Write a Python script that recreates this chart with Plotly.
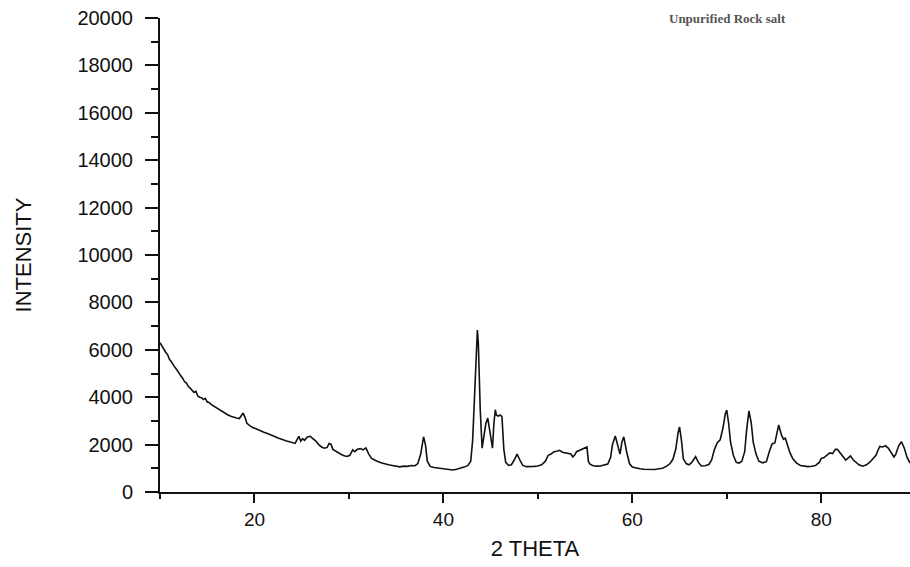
import plotly.graph_objects as go

two_theta = [
    10.0, 10.2, 10.4, 10.6, 10.8, 11.0, 11.2, 11.4, 11.6, 11.8, 12.0, 12.2, 12.4, 12.6, 12.8,
    13.0, 13.2, 13.4, 13.6, 13.8, 14.0, 14.2, 14.4, 14.6, 14.8, 15.0, 15.2, 15.4, 15.6, 15.8,
    16.0, 16.3, 16.6, 16.9, 17.2, 17.5, 17.8, 18.1, 18.4, 18.6, 18.8, 19.0, 19.2, 19.5, 19.8,
    20.1, 20.4, 20.7, 21.0, 21.3, 21.6, 21.9, 22.2, 22.5, 22.8, 23.1, 23.4, 23.7, 24.0, 24.3,
    24.5, 24.7, 24.9, 25.1, 25.3, 25.6, 25.9, 26.2, 26.5, 26.8, 27.1, 27.4, 27.7, 27.9, 28.1,
    28.3, 28.6, 28.9, 29.2, 29.5, 29.8, 30.1, 30.4, 30.6, 30.9, 31.2, 31.5, 31.8, 32.1, 32.4,
    32.7, 33.0, 33.4, 33.8, 34.2, 34.6, 35.0, 35.4, 35.8, 36.2, 36.6, 37.0, 37.3, 37.6, 37.9,
    38.1, 38.3, 38.6, 39.0, 39.4, 39.8, 40.2, 40.6, 41.0, 41.4, 41.8, 42.2, 42.6, 42.9, 43.1,
    43.3, 43.5, 43.6, 43.7, 43.9, 44.1, 44.3, 44.5, 44.7, 44.9, 45.1, 45.2, 45.35, 45.5, 45.6,
    45.8, 46.0, 46.2, 46.4, 46.6, 46.9, 47.2, 47.5, 47.8, 48.1, 48.4, 48.8, 49.2, 49.6, 50.0,
    50.4, 50.8, 51.1, 51.4, 51.7, 52.0, 52.3, 52.6, 52.9, 53.2, 53.5, 53.7, 53.9, 54.1, 54.4,
    54.7, 55.0, 55.2, 55.35, 55.5, 55.8, 56.2, 56.6, 57.0, 57.4, 57.7, 57.9, 58.2, 58.5, 58.7,
    58.9, 59.1, 59.4, 59.7, 60.0, 60.4, 60.8, 61.2, 61.6, 62.0, 62.4, 62.8, 63.2, 63.6, 64.0,
    64.3, 64.6, 64.85, 65.0, 65.2, 65.4, 65.7, 66.0, 66.3, 66.7, 67.0, 67.3, 67.7, 68.1, 68.4,
    68.7, 69.0, 69.3, 69.6, 69.85, 70.0, 70.2, 70.4, 70.7, 71.0, 71.3, 71.6, 71.9, 72.1, 72.35,
    72.6, 72.8, 73.1, 73.4, 73.8, 74.2, 74.5, 74.8, 75.1, 75.3, 75.5, 75.8, 76.0, 76.2, 76.4,
    76.7, 77.0, 77.4, 77.8, 78.2, 78.6, 79.0, 79.4, 79.8, 80.0, 80.3, 80.6, 80.9, 81.2, 81.5,
    81.7, 82.0, 82.3, 82.6, 82.9, 83.1, 83.4, 83.7, 84.0, 84.4, 84.8, 85.2, 85.5, 85.8, 86.0,
    86.2, 86.5, 86.8, 87.1, 87.4, 87.7, 87.9, 88.2, 88.5, 88.8, 89.1, 89.4,
]

intensity = [
    6300, 6150, 6050, 5900, 5800, 5600, 5500, 5350, 5250, 5150, 5000, 4900, 4800, 4650, 4600,
    4450, 4380, 4300, 4200, 4250, 4050, 4000, 3980, 3900, 3950, 3800, 3780, 3700, 3650, 3600,
    3550, 3450, 3400, 3300, 3250, 3200, 3150, 3120, 3100, 3200, 3330, 3150, 2900, 2800, 2720,
    2680, 2620, 2560, 2520, 2480, 2420, 2380, 2330, 2280, 2230, 2180, 2150, 2120, 2080, 2050,
    2200, 2350, 2150, 2250, 2180, 2320, 2350, 2250, 2150, 2000, 1900, 1850, 1880, 2050, 2020,
    1800, 1720, 1650, 1580, 1530, 1500, 1550, 1780, 1700, 1800, 1830, 1780, 1860, 1600, 1420,
    1350, 1300, 1230, 1180, 1150, 1120, 1080, 1060, 1090, 1080, 1120, 1110, 1200, 1600, 2330,
    2000, 1300, 1080, 1030, 1000, 990, 970, 950, 930, 960, 1000, 1050, 1120, 1300, 2200,
    4200, 6200, 6830, 6300, 3500, 1850, 2300, 2900, 3120, 2600, 1900, 1850, 2900, 3470, 3250,
    3200, 3250, 3180, 1800, 1250, 1120, 1150, 1350, 1600, 1350, 1120, 1070, 1060, 1080, 1100,
    1150, 1300, 1550, 1600, 1700, 1720, 1760, 1680, 1650, 1620, 1600, 1480, 1560, 1700, 1760,
    1800, 1860, 1900, 1300, 1180, 1120, 1090, 1100, 1130, 1180, 1450, 2000, 2360, 1900, 1600,
    2100, 2330, 1700, 1200, 1050, 1000, 980, 960, 950, 960, 950, 980, 1000, 1080, 1200,
    1380, 1800, 2500, 2750, 2200, 1400, 1200, 1150, 1250, 1490, 1250, 1100, 1110, 1160, 1350,
    1800, 2080, 2200, 2700, 3300, 3460, 2900, 2100, 1550, 1250, 1220, 1300, 1700, 2600, 3420,
    2900, 2100, 1600, 1300, 1230, 1280, 1700, 2030, 2080, 2500, 2830, 2400, 2230, 2270, 2000,
    1650, 1400, 1220, 1120, 1080, 1070, 1090, 1120, 1250, 1420, 1450, 1550, 1650, 1620, 1800,
    1800, 1650, 1450, 1350, 1450, 1520, 1350, 1250, 1150, 1090, 1150, 1280, 1400, 1550, 1750,
    1920, 1900, 1950, 1850, 1650, 1480, 1600, 1950, 2120, 1850, 1450, 1220,
]

x_ticks = [20, 40, 60, 80]
y_ticks = [0, 2000, 4000, 6000, 8000, 10000, 12000, 14000, 16000, 18000, 20000]

fig = go.Figure()
fig.add_trace(go.Scatter(
    x=two_theta, y=intensity, mode="lines",
    line=dict(color="#111111", width=1.6),
    showlegend=False, hoverinfo="skip",
))

fig.update_layout(
    width=910, height=567,
    margin=dict(l=160, r=0, t=18, b=75),
    paper_bgcolor="white", plot_bgcolor="white",
    font=dict(family="Liberation Sans, Arial, sans-serif", color="#111111"),
    xaxis=dict(
        range=[10, 89.4], tickmode="array", tickvals=x_ticks,
        ticktext=[str(v) for v in x_ticks],
        showgrid=False, zeroline=False,
        showline=True, linecolor="#111111", linewidth=2,
        ticks="outside", ticklen=9, tickwidth=2, tickcolor="#111111",
        minor=dict(tickmode="linear", tick0=10, dtick=10, ticks="outside",
                   ticklen=5, tickwidth=2, tickcolor="#111111"),
        tickfont=dict(size=19),
        title=dict(text="2 THETA", font=dict(size=22), standoff=12),
    ),
    yaxis=dict(
        range=[0, 20000], tickmode="array", tickvals=y_ticks,
        ticktext=[str(v) for v in y_ticks],
        showgrid=False, zeroline=False,
        showline=True, linecolor="#111111", linewidth=2,
        ticks="outside", ticklen=13, tickwidth=2, tickcolor="#111111",
        ticklabelstandoff=8,
        minor=dict(tickmode="linear", tick0=0, dtick=1000, ticks="outside",
                   ticklen=7, tickwidth=2, tickcolor="#111111"),
        tickfont=dict(size=20),
        title=dict(text="INTENSITY", font=dict(size=22), standoff=40),
    ),
    annotations=[dict(
        text="<b>Unpurified Rock salt</b>", xref="paper", yref="paper",
        x=0.756, y=1.0, xanchor="center", yanchor="middle", showarrow=False,
        font=dict(family="Liberation Serif, Times New Roman, serif", size=13, color="#555555"),
    )],
)

fig.write_html("out.html")
